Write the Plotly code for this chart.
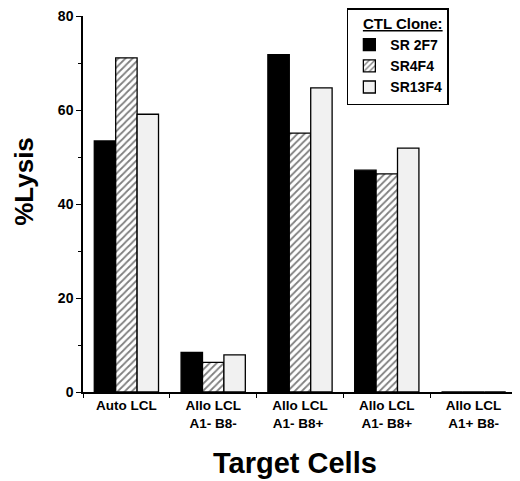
import plotly.graph_objects as go

# target cell categories (x axis)
categories = [
    "Auto LCL",
    "Allo LCL<br>A1- B8-",
    "Allo LCL<br>A1- B8+ ",
    "Allo LCL<br>A1- B8+",
    "Allo LCL<br>A1+ B8-",
]

# % lysis per CTL clone
sr_2f7 = [53.4, 8.4, 71.8, 47.2, 0]
sr4f4 = [71.1, 6.3, 55.1, 46.4, 0]
sr13f4 = [59.1, 7.9, 64.7, 51.9, 0]

y_ticks = [0, 20, 40, 60, 80]

FONT = "Liberation Sans, Arial, Helvetica, sans-serif"

fig = go.Figure()

fig.add_trace(go.Bar(
    x=categories, y=sr_2f7, name="SR 2F7",
    marker=dict(color="black", line=dict(color="black", width=1.3)),
))
fig.add_trace(go.Bar(
    x=categories, y=sr4f4, name="SR4F4",
    marker=dict(
        color="white",
        line=dict(color="black", width=1.3),
        pattern=dict(shape="/", fgcolor="black", bgcolor="white", size=5, solidity=0.35),
    ),
))
fig.add_trace(go.Bar(
    x=categories, y=sr13f4, name="SR13F4",
    marker=dict(color="#f1f1f1", line=dict(color="black", width=1.3)),
))

# page body has an 8px margin, so the figure is drawn 8px smaller
fig.update_layout(
    width=512, height=473,
    margin=dict(l=75, r=3, t=8, b=89, autoexpand=False),
    paper_bgcolor="white", plot_bgcolor="white",
    barmode="group", bargap=0.26, bargroupgap=0,
    font=dict(family=FONT, color="black", size=14, weight="bold"),
    showlegend=True,
    legend=dict(
        title=dict(text="&nbsp;&nbsp;&nbsp;<u>CTL Clone:</u>", font=dict(size=15, weight="bold")),
        xref="paper", yref="container",
        x=0.608, y=1.0, xanchor="left", yanchor="top",
        bgcolor="white", bordercolor="black", borderwidth=1.5,
        font=dict(size=14, weight="bold"),
        itemwidth=32, entrywidth=73,
    ),
    xaxis=dict(
        automargin=False,
        showline=True, linecolor="black", linewidth=1.5,
        ticks="outside", tickson="boundaries", ticklen=4, tickcolor="black",
        tickfont=dict(size=13.5, weight="bold"),
        showgrid=False,
    ),
    yaxis=dict(
        automargin=False,
        range=[0, 80], tickvals=y_ticks,
        showline=True, linecolor="black", linewidth=1.5,
        ticks="outside", ticklen=5, tickcolor="black",
        tickfont=dict(size=14, weight="bold"),
        ticklabeloverflow="allow",
        minor=dict(dtick=10, ticks="outside", ticklen=3, tickcolor="black"),
        showgrid=False, zeroline=False,
    ),
    annotations=[
        dict(text="%Lysis", xref="paper", yref="paper", x=0, y=0.559,
             xanchor="center", yanchor="middle", xshift=-59, textangle=-90,
             showarrow=False, font=dict(size=26, weight="bold")),
        dict(text="Target Cells", xref="paper", yref="paper", x=0.488, y=0,
             xanchor="center", yanchor="middle", yshift=-71,
             showarrow=False, font=dict(size=29, weight="bold")),
    ],
)

fig.write_html("out.html")
